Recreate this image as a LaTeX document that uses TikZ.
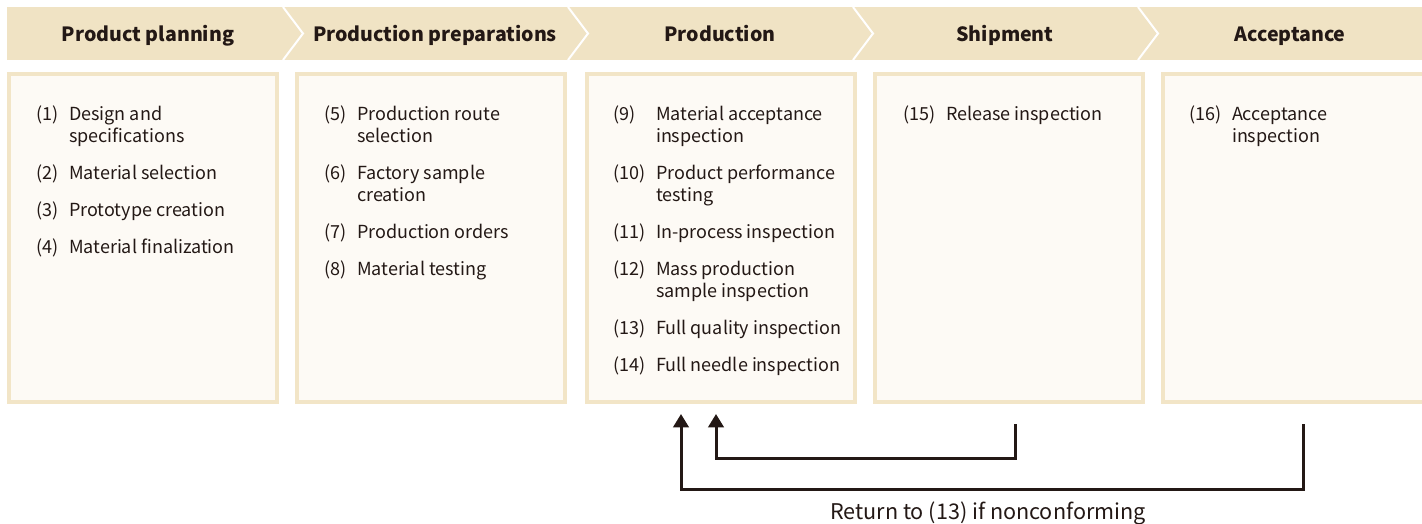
\documentclass[tikz,border=0pt]{standalone}
\usepackage{fontspec}
\setmainfont{Noto Sans CJK JP}
\usetikzlibrary{arrows.meta}
\definecolor{headfill}{RGB}{240,227,196}
\definecolor{paneledge}{RGB}{242,229,199}
\definecolor{panelfill}{RGB}{253,250,245}
\definecolor{ink}{RGB}{35,24,21}
\tikzset{every picture/.style={line width=0.75pt}}
\tikzset{
  panel/.style={draw=paneledge, line width=3pt, fill=panelfill, minimum width=201pt, minimum height=246pt, inner sep=0pt},
  stage/.style={font=\fontsize{14.7}{18}\selectfont\bfseries, text=ink, anchor=base, inner sep=0.75pt},
  itemlist/.style={anchor=north west, inner sep=0pt, text=ink, font=\fontsize{13.5}{16.5}\selectfont},
  ret/.style={draw=ink, line width=2.25pt, -{Triangle[length=10pt,width=11.5pt]}},
}

\begin{document}
\begin{tikzpicture}[x=0.75pt,y=0.75pt,yscale=-1,xscale=1]
\useasboundingbox (0,0) rectangle (1422,524);

%Shape: Header band
\fill[headfill] (7,7) rectangle (1422,60);
\foreach \x in {283,568,853,1138}
  \draw[white, line width=1.5pt] (\x,7) -- (\x+20,33.5) -- (\x,60);

% Text Node
\node[stage] (hd1) at (148,42) {Product planning};
\node[stage] (hd2) at (435,42) {Production preparations};
\node[stage] (hd3) at (720,42) {Production};
\node[stage] (hd4) at (1005,42) {Shipment};
\node[stage] (hd5) at (1290,42) {Acceptance};

%Shape: Panels
\node[panel] (pan1) at (143,238) {};
\node[panel] (pan2) at (431,238) {};
\node[panel] (pan3) at (721,238) {};
\node[panel] (pan4) at (1009,238) {};
\node[panel] (pan5) at (1297,238) {};

% Text Node
\node[itemlist] (lst1) at (36,105) {\begin{tabular}{@{}l@{\hspace{7.8pt}}l@{}}
(1) & Design and\\ & specifications\\[11.25pt]
(2) & Material selection\\[11.25pt]
(3) & Prototype creation\\[11.25pt]
(4) & Material finalization
\end{tabular}};
% Text Node
\node[itemlist] (lst2) at (324,105) {\begin{tabular}{@{}l@{\hspace{7.8pt}}l@{}}
(5) & Production route\\ & selection\\[11.25pt]
(6) & Factory sample\\ & creation\\[11.25pt]
(7) & Production orders\\[11.25pt]
(8) & Material testing
\end{tabular}};
% Text Node
\node[itemlist] (lst3) at (613,105) {\begin{tabular}{@{}l@{\hspace{7.8pt}}l@{}}
(9) & Material acceptance\\ & inspection\\[11.25pt]
(10) & Product performance\\ & testing\\[11.25pt]
(11) & In-process inspection\\[11.25pt]
(12) & Mass production\\ & sample inspection\\[11.25pt]
(13) & Full quality inspection\\[11.25pt]
(14) & Full needle inspection
\end{tabular}};
% Text Node
\node[itemlist] (lst4) at (903,105) {\begin{tabular}{@{}l@{\hspace{7.8pt}}l@{}}
(15) & Release inspection
\end{tabular}};
% Text Node
\node[itemlist] (lst5) at (1189,105) {\begin{tabular}{@{}l@{\hspace{7.8pt}}l@{}}
(16) & Acceptance\\ & inspection
\end{tabular}};

%Straight Lines: return paths
\coordinate (tip1) at ([xshift=-3.75pt,yshift=7.5pt]pan3.south);
\coordinate (tip2) at ([xshift=-30pt,yshift=7.5pt]pan3.south);
\coordinate (src4) at ([xshift=4.5pt,yshift=15pt]pan4.south);
\coordinate (src5) at ([xshift=4.5pt,yshift=15pt]pan5.south);
\draw[ret] (src4) -- ++(0,34) -| (tip1);
\draw[ret] (src5) -- ++(0,65) -| (tip2);

% Text Node
\node[text=ink, anchor=base, font=\fontsize{16.2}{19}\selectfont] (note) at (988,519) {Return to (13) if nonconforming};

\end{tikzpicture}
\end{document}
